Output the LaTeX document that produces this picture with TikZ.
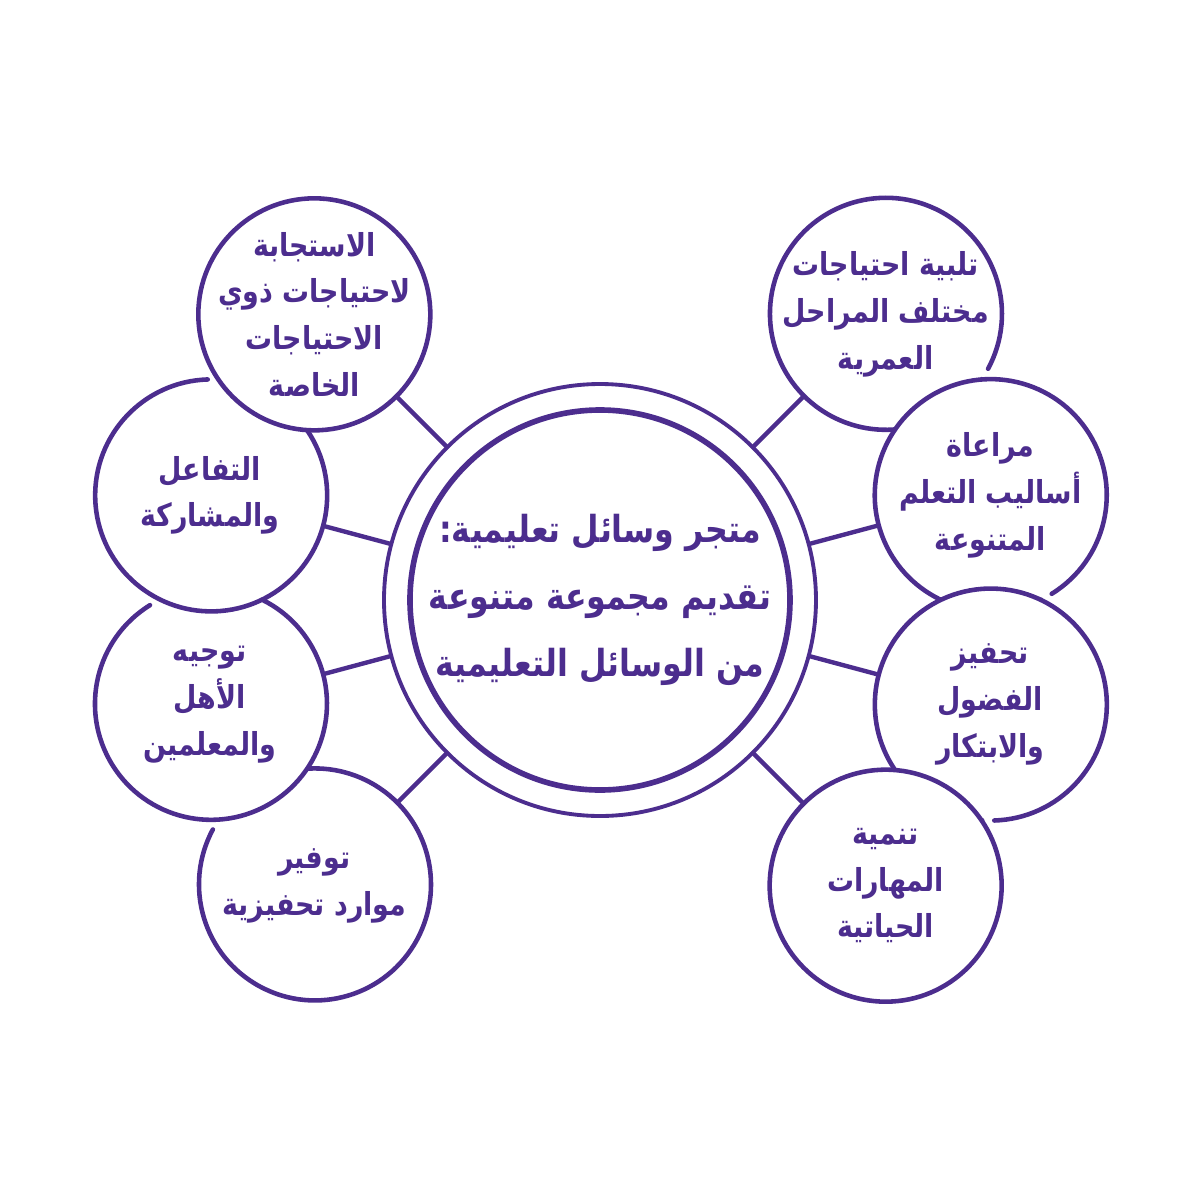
\documentclass[tikz,border=0pt]{standalone}
\usepackage{fontspec}
\newfontfamily\arabicfont[Script=Arabic, FakeStretch=0.85]{DejaVu Sans}
\TeXXeTstate=1
\definecolor{storepurple}{RGB}{76,45,142}
\newcommand{\rl}[1]{\beginR #1\endR}

\begin{document}
\begin{tikzpicture}[
  bubble/.style={circle, fill=white, minimum size=2.32cm, inner sep=0pt, outer sep=0pt},
  rim/.style={storepurple, line width=1.3pt, line cap=round},
  link/.style={storepurple, line width=1.25pt},
  bubtext/.style={align=center, text=storepurple, inner sep=0pt,
                  font=\arabicfont\bfseries\fontsize{9}{13.3}\selectfont},
  hubtext/.style={align=center, text=storepurple, inner sep=0pt,
                  font=\arabicfont\bfseries\fontsize{10.6}{19}\selectfont}
]
  \useasboundingbox (-6,-6) rectangle (6,6);
  \node[bubble, draw=storepurple, line width=1.1pt, minimum size=4.32cm] (hub) at (0,0) {};
  \node[bubble, draw=storepurple, line width=1.6pt, minimum size=3.8cm] (core) at (hub) {};
  \node[hubtext] (title) at (hub) {\rl{متجر وسائل تعليمية:}\\\rl{تقديم مجموعة متنوعة}\\\rl{من الوسائل التعليمية}};

  \node[bubble] (c2) at (45:4.04) {};
  \draw[rim] (c2.-28.3) arc[start angle=-28.3, end angle=325.7, radius=1.16cm];
  \node[bubtext] (t2) at (c2) {\rl{تلبية احتياجات}\\\rl{مختلف المراحل}\\\rl{العمرية}};

  \node[bubble] (c4) at (15:4.04) {};
  \draw[rim] (c4.-58.3) arc[start angle=-58.3, end angle=295.7, radius=1.16cm];
  \node[bubtext] (t4) at (c4) {\rl{مراعاة}\\\rl{أساليب التعلم}\\\rl{المتنوعة}};

  \node[bubble] (c6) at (-15:4.04) {};
  \draw[rim] (c6.-88.3) arc[start angle=-88.3, end angle=265.7, radius=1.16cm];
  \node[bubtext] (t6) at (c6) {\rl{تحفيز}\\\rl{الفضول}\\\rl{والابتكار}};

  \node[bubble] (c8) at (-45:4.04) {};
  \draw[rim] (c8.center) circle[radius=1.16cm];
  \node[bubtext] (t8) at (c8) {\rl{تنمية}\\\rl{المهارات}\\\rl{الحياتية}};

  \node[bubble] (c7) at (-135:4.04) {};
  \draw[rim] (c7.151.7) arc[start angle=151.7, end angle=505.7, radius=1.16cm];
  \node[bubtext] (t7) at (c7) {\rl{توفير}\\\rl{موارد تحفيزية}};

  \node[bubble] (c5) at (-165:4.04) {};
  \draw[rim] (c5.121.7) arc[start angle=121.7, end angle=475.7, radius=1.16cm];
  \node[bubtext] (t5) at (c5) {\rl{توجيه}\\\rl{الأهل}\\\rl{والمعلمين}};

  \node[bubble] (c3) at (165:4.04) {};
  \draw[rim] (c3.91.7) arc[start angle=91.7, end angle=445.7, radius=1.16cm];
  \node[bubtext] (t3) at (c3) {\rl{التفاعل}\\\rl{والمشاركة}};

  \node[bubble] (c1) at (135:4.04) {};
  \draw[rim] (c1.center) circle[radius=1.16cm];
  \node[bubtext] (t1) at (c1) {\rl{الاستجابة}\\\rl{لاحتياجات ذوي}\\\rl{الاحتياجات}\\\rl{الخاصة}};

  \draw[link] (c1) -- (hub);
  \draw[link] (c2) -- (hub);
  \draw[link] (c3) -- (hub);
  \draw[link] (c4) -- (hub);
  \draw[link] (c5) -- (hub);
  \draw[link] (c6) -- (hub);
  \draw[link] (c7) -- (hub);
  \draw[link] (c8) -- (hub);
\end{tikzpicture}
\end{document}
